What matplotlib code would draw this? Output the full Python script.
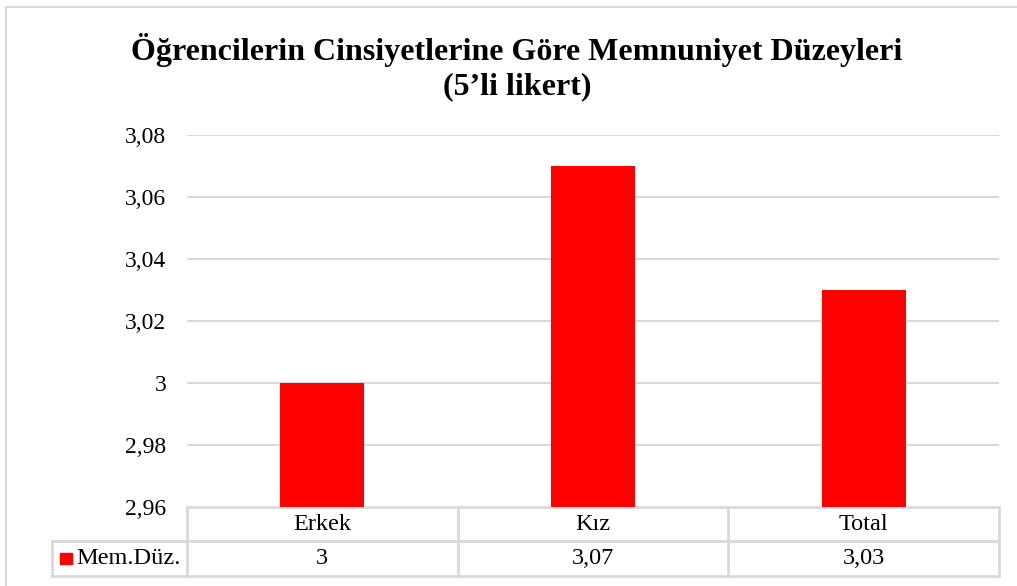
import matplotlib
matplotlib.use("Agg")
import matplotlib.pyplot as plt
from matplotlib.patches import Rectangle
from matplotlib.lines import Line2D

categories = ["Erkek", "Kız", "Total"]
values = [3.00, 3.07, 3.03]
value_labels = ["3", "3,07", "3,03"]
series_name = "Mem.Düz."
yticks = [2.96, 2.98, 3.00, 3.02, 3.04, 3.06, 3.08]
ytick_labels = ["2,96", "2,98", "3", "3,02", "3,04", "3,06", "3,08"]
title = "Öğrencilerin Cinsiyetlerine Göre Memnuniyet Düzeyleri\n(5’li likert)"

plt.rcParams["font.family"] = ["Liberation Serif", "DejaVu Serif"]
red = "#ff0000"
grid_c = "#d9d9d9"

W, H = 1017, 586
fig = plt.figure(figsize=(W / 100, H / 100), dpi=100)

# plot area
left, right, top, bottom = 187, 999, 135, 507
ax = fig.add_axes([left / W, 1 - bottom / H, (right - left) / W, (bottom - top) / H])
x = list(range(len(categories)))
ax.bar(x, values, width=0.31, color=red, zorder=3)
ax.set_xlim(-0.5, len(categories) - 0.5)
ax.set_ylim(yticks[0], yticks[-1])
ax.set_yticks(yticks)
ax.set_yticklabels(ytick_labels, fontsize=17)
ax.tick_params(axis="y", length=0, pad=15)
ax.set_xticks([])
for s in ax.spines.values():
    s.set_visible(False)
for t in yticks[1:]:
    ax.axhline(t, color=grid_c, lw=1.5, zorder=1)

# data table under the plot
ax_px = bottom - top
ax_w = right - left
r1 = -34 / ax_px
r2 = -69 / ax_px
leg_left = (52 - left) / ax_w
lkw = dict(color=grid_c, lw=2, transform=ax.transAxes, clip_on=False)
ax.add_line(Line2D([0, 1], [0, 0], **lkw))
ax.add_line(Line2D([leg_left, 1], [r1, r1], **lkw))
ax.add_line(Line2D([leg_left, 1], [r2, r2], **lkw))
ax.add_line(Line2D([leg_left, leg_left], [r1, r2], **lkw))
for i in range(len(categories) + 1):
    xf = i / len(categories)
    ax.add_line(Line2D([xf, xf], [0, r2], **lkw))
for i, (c, v) in enumerate(zip(categories, value_labels)):
    xf = (i + 0.5) / len(categories)
    ax.text(xf, r1 / 2, c, transform=ax.transAxes, ha="center", va="center", fontsize=17.5)
    ax.text(xf, (r1 + r2) / 2, v, transform=ax.transAxes, ha="center", va="center", fontsize=17.5)
ax.add_patch(Rectangle((60 / W, 1 - 564 / H), 12 / W, 11 / H, transform=fig.transFigure,
                       color=red, clip_on=False))
fig.text(76 / W, 1 - 558.5 / H, series_name, ha="left", va="center", fontsize=17.5)

fig.text(517 / W, 1 - 67 / H, title, ha="center", va="center", fontsize=23,
         fontweight="bold", linespacing=1.22)

# chart border
fig.add_artist(Rectangle((6 / W, -0.01), 1.02, 1 - 7 / H + 0.01, transform=fig.transFigure,
                         fill=False, edgecolor=grid_c, lw=1.5))

fig.savefig("out.png", dpi=100)
